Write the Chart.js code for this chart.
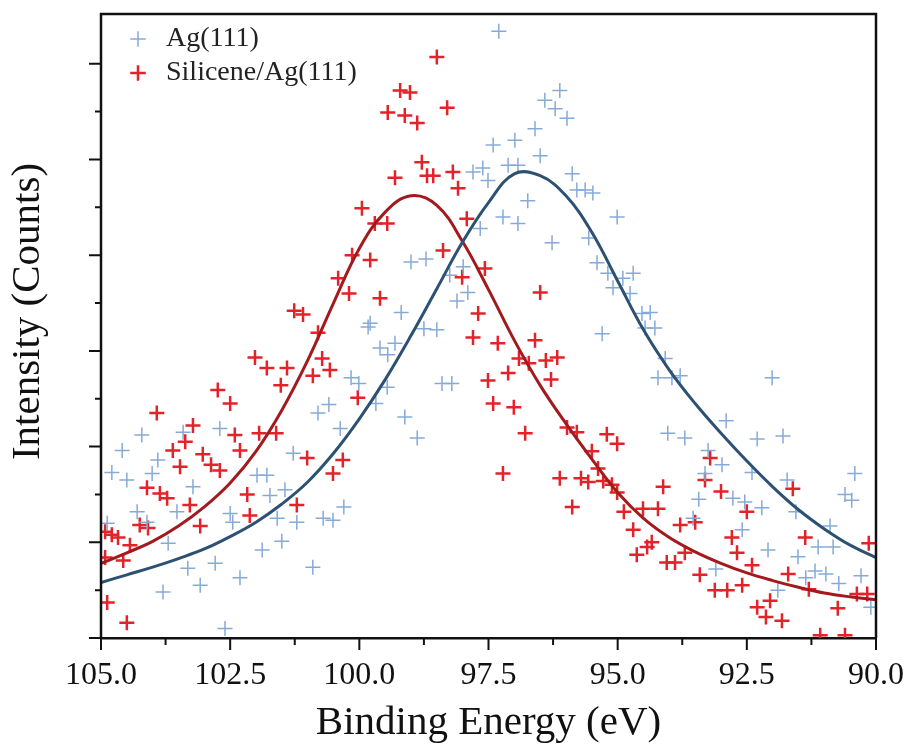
<!DOCTYPE html>
<html><head><meta charset="utf-8">
<script src="https://cdn.jsdelivr.net/npm/chart.js@4.4.1/dist/chart.umd.min.js"></script>
<style>html,body{margin:0;padding:0;background:#fff;}canvas{display:block;}</style>
</head><body>
<canvas id="c" width="907" height="744"></canvas>
<script>
// ---- data ----
const agEnergy = [97.30,96.12,96.41,96.21,95.98,96.60,96.99,97.41,96.50,97.80,97.61,97.51,97.12,96.93,95.88,95.79,95.63,95.48,96.74,95.01,97.22,96.93,97.66,96.27,95.56,99.00,98.71,97.99,98.25,97.90,98.11,99.19,99.79,98.75,98.50,
  95.40,95.19,94.90,94.70,95.09,94.76,94.53,94.37,94.47,94.28,95.30,94.08,94.22,93.95,93.79,92.01,92.90,94.03,93.70,92.30,91.80,93.25,92.98,92.40,93.31,90.41,91.72,90.60,90.47,93.43,92.77,92.54,92.21,91.55,93.54,92.59,90.89,91.12,90.83,92.09,91.51,93.10,91.18,90.97,91.36,90.72,90.29,91.90,90.10,
  99.60,99.31,99.45,99.83,100.16,100.01,99.46,99.68,98.40,98.21,99.12,98.88,100.59,100.80,100.37,101.28,104.21,103.41,102.70,104.59,103.90,104.79,104.50,104.01,103.22,101.98,101.79,101.73,101.44,100.30,104.30,103.53,102.50,102.45,104.11,101.59,101.21,100.70,100.51,104.88,103.70,101.50,101.88,103.32,102.79,100.90,103.08,102.31,103.80,102.60];
const agCounts = [634,572,562,553,543,532,520,515,504,487,491,478,494,494,485,468,468,465,457,440,440,433,428,413,418,393,396,388,379,361,352,340,329,323,322,
  392,381,376,381,366,360,339,340,324,324,318,292,272,272,274,272,227,214,209,208,211,196,181,173,172,172,165,150,144,145,146,142,136,132,125,113,117,95,95,92,85,72,70,67,63,57,65,50,32,
  303,308,296,325,272,266,262,245,266,266,231,209,244,235,219,193,212,215,219,196,186,173,165,172,158,170,170,149,155,137,132,132,130,121,121,125,121,125,123,120,99,101,92,73,78,74,55,63,48,10];

const siEnergy = [98.50,99.21,99.02,99.45,99.12,98.88,98.30,98.79,99.31,98.69,98.57,98.19,98.09,99.95,99.70,99.46,97.92,98.38,99.79,97.57,98.01,96.50,99.60,97.70,100.14,100.41,100.20,101.26,101.09,100.80,102.02,101.79,101.40,101.52,100.72,100.57,100.90,102.74,102.50,103.92,103.22,103.37,103.61,103.47,102.41,102.31,101.94,101.61,103.03,102.87,102.70,101.01,100.32,100.51,100.03,104.11,103.86,103.72,103.28,102.17,101.21,102.12,104.25,104.09,103.08,104.92,104.79,104.67,104.44,104.92,104.57,104.88,104.50,
  97.80,97.32,96.60,96.91,96.72,96.39,96.17,97.51,97.12,96.29,97.41,97.01,96.79,95.98,95.79,95.21,95.01,95.50,95.38,97.22,96.12,95.71,95.57,95.28,95.11,95.88,
  95.01,94.88,94.51,94.22,94.70,94.12,93.21,93.31,93.00,93.79,93.50,92.50,94.34,94.43,94.63,94.05,93.89,93.70,92.79,92.69,91.61,91.37,92.40,93.41,91.70,92.59,93.12,92.88,92.05,91.30,92.30,92.13,91.82,90.74,90.37,90.17,90.14,91.08,90.60];
const siCounts = [607,572,570,549,546,538,554,497,481,483,483,487,470,449,433,433,438,405,395,386,377,361,355,339,400,376,360,342,338,319,293,282,282,264,292,280,274,259,245,235,222,205,196,179,212,196,214,214,192,181,175,188,186,172,251,157,151,146,139,150,139,128,118,115,117,111,108,105,97,84,81,37,16,
  314,308,311,292,287,290,293,269,277,270,245,241,214,220,215,213,203,195,177,172,167,167,163,164,160,137,
  152,132,135,135,113,158,188,165,153,118,121,132,100,95,87,79,79,89,105,89,156,105,76,66,67,55,50,50,39,51,32,22,18,31,46,46,99,3,3];

// fitted curves, every 0.5 eV
const fitEnergy = [105,104.5,104,103.5,103,102.5,102,101.5,101,100.5,100,99.5,99,98.5,98,97.5,97,96.5,96,95.5,95,94.5,94,93.5,93,92.5,92,91.5,91,90.5,90];
const agFit = [58,66,74,83,93,106,121,140,163,193,229,270,316,365,414,455,485,483,462,424,373,322,280,245,214,185,158,134,114,97,84];
const siFit = [78,89,101,117,137,162,195,238,290,350,407,445,462,452,414,364,311,264,224,187,152,125,105,90,78,68,60,53,47,43,40];

// axis ticks
const xTickValues = [105, 102.5, 100, 97.5, 95, 92.5, 90];
const xMinorTicks = [103.75, 101.25, 98.75, 96.25, 93.75, 91.25];
const yMajorTicks = [0, 100, 200, 300, 400, 500, 600];
const yMinorTicks = [50, 150, 250, 350, 450, 550];

const pts = (xs, ys) => xs.map((x, i) => ({x: x, y: ys[i]}));
const SERIF = "'Liberation Serif', 'Times New Roman', serif";

const framePlugin = {
  id: 'frame',
  afterLayout(chart) {
    const lg = chart.legend, a = chart.chartArea;
    if (lg) { lg.left = a.left + 17; lg.top = a.top + 5; }
    // nudge the vertical title upward (pixel mapping is already configured)
    const ys = chart.scales.y;
    if (ys) { ys.top = a.top - 29; }
  },
  afterDraw(chart) {
    const {ctx, chartArea: a, scales: {x, y}} = chart;
    ctx.save();
    ctx.strokeStyle = '#111';
    ctx.lineWidth = 2.5;
    ctx.beginPath();
    ctx.moveTo(a.left, a.bottom + 1);
    ctx.lineTo(a.left, a.top);
    ctx.lineTo(a.right, a.top);
    ctx.lineTo(a.right, a.bottom);
    ctx.stroke();
    ctx.lineWidth = 2;
    ctx.beginPath();
    xTickValues.forEach(v => { const p = x.getPixelForValue(v); ctx.moveTo(p, a.bottom); ctx.lineTo(p, a.bottom + 12); });
    xMinorTicks.forEach(v => { const p = x.getPixelForValue(v); ctx.moveTo(p, a.bottom); ctx.lineTo(p, a.bottom + 7); });
    yMajorTicks.forEach(v => { const p = y.getPixelForValue(v); ctx.moveTo(a.left - 12, p); ctx.lineTo(a.left, p); });
    yMinorTicks.forEach(v => { const p = y.getPixelForValue(v); ctx.moveTo(a.left - 6, p); ctx.lineTo(a.left, p); });
    ctx.stroke();
    ctx.restore();
  }
};

new Chart(document.getElementById('c'), {
  type: 'scatter',
  data: {
    datasets: [
      {label: 'Ag(111) fit', type: 'line', data: pts(fitEnergy, agFit), borderColor: '#2d5173', borderWidth: 3, pointRadius: 0, tension: 0.4, fill: false, order: 0},
      {label: 'Silicene/Ag(111) fit', type: 'line', data: pts(fitEnergy, siFit), borderColor: '#a31a1e', borderWidth: 3, pointRadius: 0, tension: 0.4, fill: false, order: 0},
      {label: 'Ag(111)', data: pts(agEnergy, agCounts), pointStyle: 'cross', pointRadius: 7.5, borderColor: '#86aad8', backgroundColor: '#86aad8', borderWidth: 1.5, order: 1},
      {label: 'Silicene/Ag(111)', data: pts(siEnergy, siCounts), pointStyle: 'cross', pointRadius: 7.5, borderColor: '#e4222a', backgroundColor: '#e4222a', borderWidth: 2.5, order: 1}
    ]
  },
  options: {
    responsive: false,
    animation: false,
    devicePixelRatio: 1,
    layout: {padding: {top: 14, right: 31, left: 0, bottom: 0}},
    scales: {
      x: {
        type: 'linear', reverse: true, min: 90, max: 105,
        afterFit: s => { s.height = 106; },
        afterBuildTicks: s => { s.ticks = xTickValues.map(v => ({value: v})); },
        ticks: {callback: v => Number(v).toFixed(1), font: {family: SERIF, size: 32, lineHeight: 1}, color: '#111', padding: 3, maxRotation: 0, autoSkip: false},
        grid: {drawOnChartArea: false, drawTicks: true, tickLength: 19, tickColor: 'rgba(0,0,0,0)'},
        border: {display: true, color: '#111', width: 2.5},
        title: {display: true, text: 'Binding Energy (eV)', font: {family: SERIF, size: 41, lineHeight: 1}, color: '#111', padding: {top: 0, bottom: 0}}
      },
      y: {
        min: 0, max: 652,
        afterFit: s => { s.width = 101; },
        ticks: {display: false},
        grid: {drawOnChartArea: false, drawTicks: false},
        border: {display: false},
        title: {display: true, text: 'Intensity (Counts)', font: {family: SERIF, size: 41, lineHeight: 1.2}, color: '#111', padding: {top: 4, bottom: 0}}
      }
    },
    plugins: {
      legend: {
        position: 'chartArea', align: 'start',
        labels: {
          usePointStyle: true, boxWidth: 28, boxHeight: 11, padding: 6,
          font: {family: SERIF, size: 28}, color: '#222',
          filter: item => !item.text.endsWith(' fit')
        }
      },
      tooltip: {enabled: false}
    }
  },
  plugins: [framePlugin]
});
</script>
</body></html>
